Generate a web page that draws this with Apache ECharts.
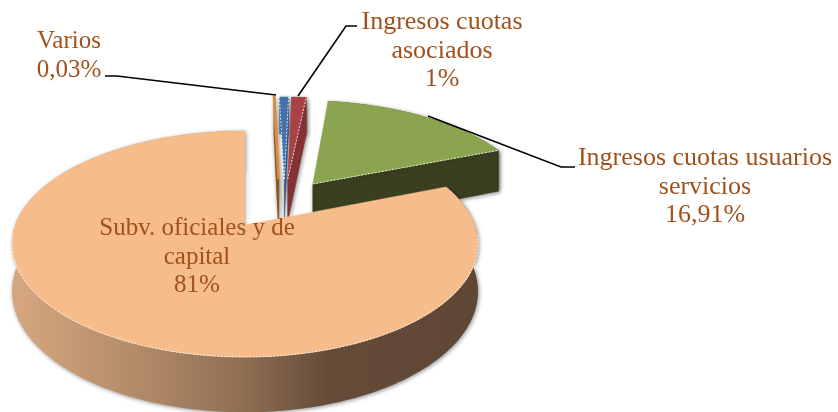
<!DOCTYPE html>
<html lang="es">

<head>
  <meta charset="UTF-8">
  <title>Ingresos</title>
  <style>
    * {
      margin: 0;
      padding: 0;
      box-sizing: border-box;
    }

    body {
      background-color: #fff;
    }

    #chart {
      width: 838px;
      height: 412px;
    }
  </style>
</head>

<body>
  <div id="chart"></div>
  <script src="https://cdn.jsdelivr.net/npm/echarts@6/dist/echarts.min.js"></script>
  <script>
    // slices clockwise from 12 o'clock
    const sliceNames = ['Varios', '', 'Ingresos cuotas\nasociados', 'Ingresos cuotas usuarios\nservicios', 'Subv. oficiales y de\ncapital']
    const sliceValues = [0.03, 0.8, 1.26, 16.91, 81]
    const sliceLabels = ['0,03%', '', '1%', '16,91%', '81%']

    // look of each slice
    const topColors = ['#E18B3E', '#4573A9', '#A84244', '#8BA44F', '#F7BC8C']
    const sideColors = ['#8F5A20', '#35608F', '#873436', '#393F1F', '#654B38']
    const explode = [[0.157, -0.45], [0.184, -0.45], [0.2, -0.45], [0.315, -0.399], [0, 0]]

    // perspective of the disc
    const cx = 245, cy = 225, ax = 229.7, by = 109.8, persp = 0.168, depth = 46

    const textColor = '#A0521C'
    const labelSpots = [[69, 56], null, [442, 51], [705, 187], [197, 257]]
    const labelSizes = [25, 25, 26, 26, 25]
    const leaders = [
      [[105, 76], [117, 76], [276, 95]],
      [[357, 26], [346, 26], [298, 96]],
      [[428, 116], [561, 167], [575, 167]]
    ]

    function project(u, v, z) {
      const w = 1 - persp * v
      return [cx + ax * u / w, cy + (by * v + depth * z) / w]
    }

    const total = sliceValues.reduce((a, b) => a + b, 0)
    let running = 0
    const spans = sliceValues.map(function (val) {
      const from = running
      running += val / total * 360
      return [from, running]
    })

    function renderSlice(params, api) {
      const i = params.dataIndex
      const [du, dv] = explode[i]
      const [from, to] = spans[i]
      const rim = function (deg, z) {
        const t = deg * Math.PI / 180
        return project(du + Math.sin(t), dv - Math.cos(t), z)
      }
      const tip = function (z) {
        return project(du, dv, z)
      }
      const arc = function (z, a, b) {
        const pts = []
        const n = Math.max(2, Math.ceil(Math.abs(b - a)))
        for (let k = 0; k <= n; k++) pts.push(rim(a + (b - a) * k / n, z))
        return pts
      }
      const shadow = { shadowBlur: 4, shadowColor: 'rgba(0,0,0,0.45)', shadowOffsetX: 1, shadowOffsetY: 1 }
      let sideFill = sideColors[i]
      if (i === 4) {
        sideFill = new echarts.graphic.LinearGradient(12, 0, 478, 0, [
          { offset: 0, color: '#D6A77F' },
          { offset: 0.25, color: '#B58D6A' },
          { offset: 0.5, color: '#8E6E52' },
          { offset: 0.68, color: '#654B38' },
          { offset: 1, color: '#5F4735' }
        ], true)
      }
      const children = []
      // outer wall
      children.push({
        type: 'polygon',
        shape: { points: arc(0, from, to).concat(arc(1, to, from)) },
        style: Object.assign({ fill: sideFill }, shadow)
      })
      // cut faces
      if (i < 4) {
        children.push({
          type: 'polygon',
          shape: { points: [tip(0), rim(to, 0), rim(to, 1), tip(1)] },
          style: Object.assign({ fill: sideColors[i], stroke: sideColors[i], lineWidth: i === 0 ? 1.5 : 0.5 }, shadow)
        })
      } else {
        children.push({
          type: 'polyline',
          shape: { points: [rim(to, 1), tip(1)] },
          style: Object.assign({ fill: 'none', stroke: '#999', lineWidth: 1 }, shadow)
        })
      }
      // top face
      children.push({
        type: 'polygon',
        shape: { points: [tip(0)].concat(arc(0, from, to)) },
        style: { fill: topColors[i], stroke: topColors[i], lineWidth: i === 0 ? 2.5 : 0.5 }
      })
      // pale dotted edges
      const dots = { fill: 'none', stroke: 'rgba(255,255,255,0.8)', lineWidth: 1, lineDash: [2, 1.5] }
      if (i === 4) {
        children.push({ type: 'polyline', shape: { points: arc(0, 95, 265) }, style: dots })
      } else if (i > 0) {
        children.push({ type: 'polyline', shape: { points: [tip(0), rim(to, 0)] }, style: dots })
        if (i === 1) children.push({ type: 'polyline', shape: { points: [tip(0), rim(from, 0)] }, style: dots })
      }
      return { type: 'group', children: children }
    }

    const graphics = []
    sliceNames.forEach(function (name, i) {
      if (!labelSpots[i]) return
      graphics.push({
        type: 'text',
        z: 20,
        x: labelSpots[i][0],
        y: labelSpots[i][1],
        style: {
          text: name + '\n' + sliceLabels[i],
          fill: textColor,
          font: labelSizes[i] + 'px "Liberation Serif"',
          lineHeight: 28.5,
          align: 'center',
          verticalAlign: 'middle'
        }
      })
    })
    leaders.forEach(function (pts) {
      graphics.push({
        type: 'polyline',
        z: 19,
        shape: { points: pts },
        style: { fill: 'none', stroke: '#000', lineWidth: 1.6 }
      })
    })

    const chart = echarts.init(document.querySelector('#chart'))
    chart.setOption({
      animation: false,
      backgroundColor: '#fff',
      graphic: graphics,
      series: [
        {
          type: 'custom',
          coordinateSystem: 'none',
          renderItem: renderSlice,
          data: sliceValues.map(v => [v])
        }
      ]
    })
  </script>
</body>

</html>
